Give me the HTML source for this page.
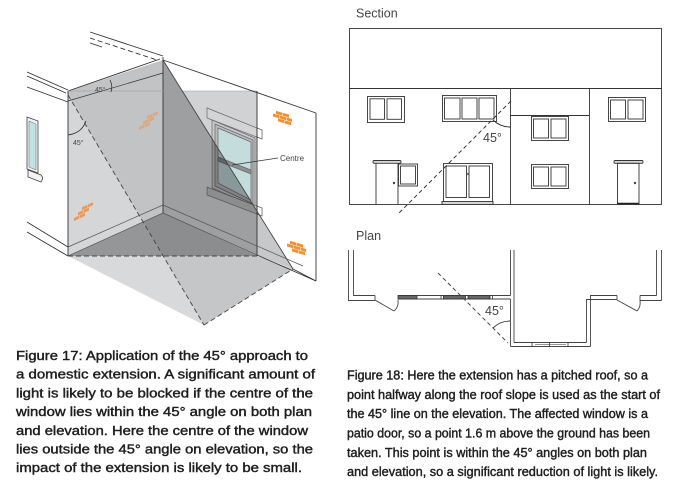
<!DOCTYPE html>
<html><head><meta charset="utf-8"><style>
html,body{margin:0;padding:0;background:#fff;}
svg{display:block;}
.cap{font-family:"Liberation Sans",sans-serif;font-size:13px;fill:#1e1e1e;stroke:#1e1e1e;stroke-width:0.42;}
.lbl{font-family:"Liberation Sans",sans-serif;fill:#444;}
</style></head><body>
<svg width="675" height="492" viewBox="0 0 675 492" xmlns="http://www.w3.org/2000/svg">
<rect width="675" height="492" fill="#fff"/>

<!-- ===== LEFT FIGURE ===== -->
<rect x="68" y="91" width="189" height="165" fill="#d1d2d4"/>
<polygon points="68,256 163,256 204,325" fill="#d8d9db"/>
<polygon points="163,256 257,256 293,269 204,325" fill="#c5c6c8"/>
<polygon points="257,211 293,269 257,255" fill="#c7c8ca"/>
<polygon points="163,60 257,211 257,256 163,213" fill="#9e9fa1"/>
<polygon points="68,91 163,60 163,213 143,222 68,95" fill="#c2c3c5"/>
<polygon points="68,95 143,222 68,256" fill="#d5d6d8"/>
<polygon points="68,256 143,222 163,256" fill="#959698"/>
<polygon points="143,222 163,213 257,256 163,256" fill="#8c8d8f"/>

<!-- house wall window -->
<defs>
<clipPath id="win">
<polygon points="207,108 262,130 262,139 207,118"/>
<polygon points="212,120 255,138 255,207 212,188"/>
<polygon points="207,187 262,208 262,216 207,195"/>
</clipPath>
</defs>
<g stroke="#666" stroke-width="0.7">
<polygon points="207,108 262,130 262,139 207,118" fill="#d3d4d6"/>
<polygon points="257,128 262,130 262,139 257,137" fill="#fff"/>
<polygon points="212,120 255,138 255,207 212,188" fill="#c9cacc"/>
<polygon points="215,124 253,140 253,204 215,186" fill="#b9babc"/>
<polygon points="218,128 251,142 251,200 218,183" fill="#c4dcdc"/>
<polygon points="218,157 251,170 251,174 218,161" fill="#8e8f91"/>
<polygon points="207,187 262,208 262,216 207,195" fill="#c9cacc"/>
<polygon points="257,206 262,208 262,216 257,214" fill="#fff"/>
</g>
<polygon points="163,60 293,269 150,269" fill="#000" fill-opacity="0.3" clip-path="url(#win)"/>

<!-- left house window -->
<polygon points="27,117 38,121 38,173 27,169" fill="#f2f2f2" stroke="#444" stroke-width="0.8"/>
<polygon points="29,121 36,124 36,170 29,167" fill="#bfe2e2" stroke="#666" stroke-width="0.5"/>
<path d="M28,170 L41,175 Q44,178 41,182 L28,177 Z" fill="#f2f2f2" stroke="#444" stroke-width="0.8"/>

<!-- bricks -->
<g fill="#e0a878" transform="translate(139,120) skewY(-25)">
<rect x="8" y="0" width="5.5" height="3"/><rect x="14" y="0" width="5" height="3"/>
<rect x="4" y="3.5" width="5.5" height="3"/><rect x="10" y="3.5" width="5" height="3"/>
<rect x="0" y="7" width="5.5" height="3"/><rect x="6" y="7" width="5" height="3"/>
</g>
<g fill="#e99a5a" transform="translate(74,211) skewY(-25)">
<rect x="8" y="0" width="5.5" height="3"/><rect x="14" y="0" width="5" height="3"/>
<rect x="4" y="3.5" width="5.5" height="3"/><rect x="10" y="3.5" width="5" height="3"/>
<rect x="0" y="7" width="5.5" height="3"/><rect x="6" y="7" width="5" height="3"/>
</g>
<g fill="#f5902c" transform="translate(273,110) skewY(16)">
<rect x="3" y="0" width="6.5" height="3"/><rect x="10" y="0" width="6" height="3"/>
<rect x="0" y="3.5" width="6.5" height="3"/><rect x="7" y="3.5" width="6.5" height="3"/><rect x="14" y="3.5" width="5" height="3"/>
<rect x="5" y="7" width="6.5" height="3"/><rect x="12" y="7" width="6" height="3"/>
</g>
<g fill="#f5902c" transform="translate(287,240) skewY(16)">
<rect x="3" y="0" width="6.5" height="3"/><rect x="10" y="0" width="6" height="3"/>
<rect x="0" y="3.5" width="6.5" height="3"/><rect x="7" y="3.5" width="6.5" height="3"/><rect x="14" y="3.5" width="5" height="3"/>
<rect x="5" y="7" width="6.5" height="3"/><rect x="12" y="7" width="6" height="3"/>
</g>

<!-- lines -->
<g stroke="#333" stroke-width="0.9" fill="none">
<line x1="68" y1="91" x2="68" y2="256"/>
<line x1="163" y1="57" x2="163" y2="213"/>
<line x1="257" y1="91" x2="257" y2="256"/>
<line x1="68" y1="91" x2="160" y2="59"/>
<line x1="68" y1="101" x2="163" y2="73" stroke-width="0.7"/>
<line x1="68" y1="91" x2="257" y2="91" stroke="#999" stroke-width="0.5"/>
<line x1="163" y1="60" x2="316" y2="113"/>
<line x1="316" y1="113" x2="316" y2="281"/>
<line x1="257" y1="255" x2="316" y2="281"/>
<line x1="163" y1="213" x2="257" y2="255" stroke="#555" stroke-width="0.7"/>
<line x1="163" y1="205" x2="303" y2="266" stroke="#555" stroke-width="0.7"/>
<line x1="68" y1="256" x2="163" y2="213" stroke="#555" stroke-width="0.7"/>
<line x1="68" y1="247" x2="163" y2="205" stroke="#555" stroke-width="0.7"/>
<line x1="163" y1="60" x2="293" y2="269" stroke="#444"/>
<line x1="90" y1="32" x2="163" y2="56"/>
<line x1="90" y1="38" x2="157" y2="60" stroke-dasharray="5,3"/>
<line x1="90" y1="43" x2="102" y2="47"/>
<line x1="27" y1="72" x2="68" y2="90"/>
<line x1="27" y1="76" x2="66" y2="93"/>
<line x1="27" y1="87" x2="68" y2="102"/>
<line x1="27" y1="222" x2="68" y2="247"/>
<line x1="27" y1="232" x2="68" y2="256"/>
<line x1="293" y1="269" x2="316" y2="281"/>
</g>
<g stroke="#444" stroke-width="0.9" fill="none" stroke-dasharray="5,3">
<line x1="68" y1="95" x2="204" y2="325"/>
<line x1="204" y1="325" x2="293" y2="269"/>
<line x1="68" y1="256" x2="257" y2="256"/>
</g>
<path d="M110,80 Q113,86 111,92" stroke="#333" stroke-width="0.8" fill="none"/>
<path d="M68,135 Q82,133 86,121" stroke="#333" stroke-width="0.8" fill="none"/>
<text x="95" y="92" class="lbl" font-size="7" fill="#333">45°</text>
<text x="73" y="145" class="lbl" font-size="7" fill="#333">45°</text>
<line x1="232" y1="165" x2="278" y2="158" stroke="#333" stroke-width="0.8"/>
<text x="280" y="161" class="lbl" font-size="8" fill="#333">Centre</text>

<!-- ===== SECTION ===== -->
<text x="356" y="17.5" class="lbl" font-size="12.5">Section</text>
<g stroke="#333" stroke-width="0.9" fill="none">
<rect x="349.5" y="28.5" width="312" height="176"/>
<line x1="349" y1="88.5" x2="662" y2="88.5"/>
<line x1="510.5" y1="88" x2="510.5" y2="205"/>
<line x1="589.5" y1="88" x2="589.5" y2="205"/>
<line x1="510" y1="115.5" x2="589" y2="115.5"/>
<rect x="367.5" y="96.5" width="37" height="26"/>
<rect x="370" y="98.8" width="14.5" height="20.5"/><rect x="387" y="98.8" width="14.5" height="20.5"/>
<rect x="442.5" y="95.5" width="54" height="26"/>
<rect x="444.5" y="98" width="15.5" height="21"/><rect x="462" y="98" width="15" height="21"/><rect x="479" y="98" width="15" height="21"/>
<rect x="531.5" y="116.5" width="37" height="24"/>
<rect x="533.5" y="119" width="15" height="19"/><rect x="551" y="119" width="15" height="19"/>
<rect x="531.5" y="164.5" width="37" height="24"/>
<rect x="533.5" y="167" width="15" height="19"/><rect x="551" y="167" width="15" height="19"/>
<rect x="608.5" y="97.5" width="37" height="24"/>
<rect x="610.5" y="100" width="15" height="19"/><rect x="628" y="100" width="15" height="19"/>
<rect x="373" y="160.5" width="28" height="2.8" rx="1.2" fill="#d6d6d6"/>
<line x1="376" y1="163.3" x2="376" y2="204"/>
<line x1="398" y1="163.3" x2="398" y2="204"/>
<rect x="398.5" y="164" width="19" height="22"/>
<rect x="400.5" y="166" width="15" height="18"/>
<rect x="443.5" y="163.5" width="49" height="39"/>
<rect x="446" y="166" width="20.5" height="31.5"/><rect x="469" y="166" width="20.5" height="31.5"/>
<rect x="442" y="201.5" width="51" height="3" fill="#d6d6d6"/>
<rect x="614" y="160.5" width="29" height="2.8" rx="1.2" fill="#d6d6d6"/>
<rect x="617.5" y="163.3" width="21.5" height="40.7"/>
</g>
<line x1="617" y1="203.5" x2="639" y2="203.5" stroke="#222" stroke-width="1.6"/>
<circle cx="394" cy="183" r="1.2" fill="#444"/>
<circle cx="635" cy="183" r="1.2" fill="#444"/>
<path d="M466.5,172.5 l3,3 M469.5,172.5 l-3,3" stroke="#444" stroke-width="0.6"/>
<line x1="511" y1="101" x2="399" y2="213" stroke="#333" stroke-width="1" stroke-dasharray="4,3"/>
<path d="M493,120 A25,25 0 0 0 511,127" stroke="#333" stroke-width="0.9" fill="none"/>
<text x="483" y="142" class="lbl" font-size="12.5" fill="#555">45°</text>

<!-- ===== PLAN ===== -->
<text x="356" y="240" class="lbl" font-size="12.5">Plan</text>
<g stroke="#444" stroke-width="0.9" fill="none">
<line x1="348.5" y1="250" x2="348.5" y2="300.5"/>
<line x1="353.5" y1="250" x2="353.5" y2="295.5"/>
<line x1="348" y1="300.5" x2="375" y2="300.5"/>
<line x1="353" y1="295.5" x2="375" y2="295.5"/>
<line x1="375" y1="295.5" x2="375" y2="300.5"/>
<line x1="375" y1="300" x2="394" y2="311"/>
<path d="M394,311 Q399,307 398,300"/>
<line x1="398" y1="295.5" x2="510.5" y2="295.5"/>
<line x1="398" y1="299" x2="510.5" y2="299"/>
<line x1="510.5" y1="250" x2="510.5" y2="295.5"/>
<line x1="514" y1="250" x2="514" y2="342.5"/>
<line x1="510.5" y1="299" x2="510.5" y2="346.5"/>
<line x1="510.5" y1="346.5" x2="590.5" y2="346.5"/>
<line x1="514" y1="342.5" x2="586.5" y2="342.5"/>
<line x1="590.5" y1="295.5" x2="590.5" y2="346.5"/>
<line x1="586.5" y1="299.5" x2="586.5" y2="342.5"/>
<line x1="590" y1="295.5" x2="617" y2="295.5"/>
<line x1="586" y1="299.5" x2="617" y2="299.5"/>
<line x1="617" y1="295.5" x2="617" y2="299.5"/>
<line x1="617" y1="300" x2="637" y2="311"/>
<path d="M637,311 Q641,307 640,300"/>
<line x1="640" y1="295.5" x2="656.5" y2="295.5"/>
<line x1="640" y1="300.5" x2="661.5" y2="300.5"/>
<line x1="640" y1="295.5" x2="640" y2="300.5"/>
<line x1="656.5" y1="250" x2="656.5" y2="295.5"/>
<line x1="661.5" y1="250" x2="661.5" y2="300.5"/>
</g>
<g stroke="#333" stroke-width="0.8">
<rect x="398" y="295.5" width="19" height="3.5" fill="#666"/>
<rect x="441" y="295.5" width="2.5" height="3.5" fill="#fff"/>
<rect x="443.5" y="295.5" width="22" height="3.5" fill="#666"/>
<rect x="468" y="295.5" width="22" height="3.5" fill="#666"/>
<rect x="490" y="295.5" width="2.5" height="3.5" fill="#fff"/>
<rect x="532" y="342.5" width="36" height="4" fill="#fff"/>
<line x1="549.5" y1="342.5" x2="549.5" y2="346.5"/>
<line x1="535" y1="344.5" x2="566" y2="344.5" stroke-width="0.6"/>
</g>
<line x1="438" y1="273" x2="508" y2="343" stroke="#444" stroke-width="1" stroke-dasharray="4,3"/>
<path d="M493,328 A24,24 0 0 1 510,321" stroke="#333" stroke-width="0.9" fill="none"/>
<text x="485" y="315" class="lbl" font-size="12.5" fill="#555">45°</text>

<!-- ===== CAPTIONS ===== -->
<text class="cap" x="16" y="360" textLength="292" lengthAdjust="spacingAndGlyphs">Figure 17: Application of the 45° approach to</text>
<text class="cap" x="16" y="378.7" textLength="299" lengthAdjust="spacingAndGlyphs">a domestic extension. A significant amount of</text>
<text class="cap" x="16" y="397.4" textLength="297" lengthAdjust="spacingAndGlyphs">light is likely to be blocked if the centre of the</text>
<text class="cap" x="16" y="416.1" textLength="296" lengthAdjust="spacingAndGlyphs">window lies within the 45° angle on both plan</text>
<text class="cap" x="16" y="434.8" textLength="292" lengthAdjust="spacingAndGlyphs">and elevation. Here the centre of the window</text>
<text class="cap" x="16" y="453.5" textLength="297" lengthAdjust="spacingAndGlyphs">lies outside the 45° angle on elevation, so the</text>
<text class="cap" x="16" y="472.2" textLength="286" lengthAdjust="spacingAndGlyphs">impact of the extension is likely to be small.</text>

<text class="cap" x="347" y="379.5" textLength="301" lengthAdjust="spacingAndGlyphs">Figure 18: Here the extension has a pitched roof, so a</text>
<text class="cap" x="347" y="398.8" textLength="313" lengthAdjust="spacingAndGlyphs">point halfway along the roof slope is used as the start of</text>
<text class="cap" x="347" y="418.2" textLength="301" lengthAdjust="spacingAndGlyphs">the 45° line on the elevation. The affected window is a</text>
<text class="cap" x="347" y="437.5" textLength="303" lengthAdjust="spacingAndGlyphs">patio door, so a point 1.6 m above the ground has been</text>
<text class="cap" x="347" y="456.8" textLength="300" lengthAdjust="spacingAndGlyphs">taken. This point is within the 45° angles on both plan</text>
<text class="cap" x="347" y="476.2" textLength="311" lengthAdjust="spacingAndGlyphs">and elevation, so a significant reduction of light is likely.</text>
</svg>
</body></html>
